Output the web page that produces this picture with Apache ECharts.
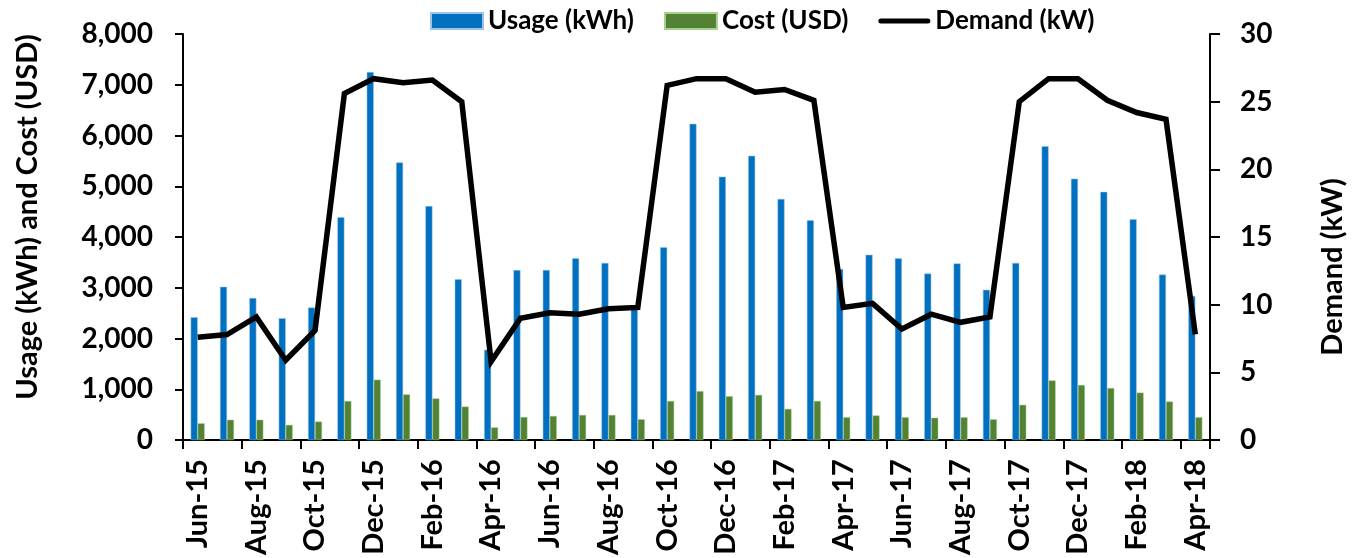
<!DOCTYPE html>
<html>
<head>
<meta charset="utf-8">
<script src="https://cdn.jsdelivr.net/npm/echarts@6/dist/echarts.min.js"></script>
<style>
  html, body { margin: 0; padding: 0; background: #fff; }
  #chart { width: 1361px; height: 558px; }
</style>
</head>
<body>
<div id="chart"></div>
<script>
// Monthly billing periods, Jun-15 through Apr-18
const months = [
  'Jun-15','Jul-15','Aug-15','Sep-15','Oct-15','Nov-15','Dec-15',
  'Jan-16','Feb-16','Mar-16','Apr-16','May-16','Jun-16','Jul-16','Aug-16','Sep-16','Oct-16','Nov-16','Dec-16',
  'Jan-17','Feb-17','Mar-17','Apr-17','May-17','Jun-17','Jul-17','Aug-17','Sep-17','Oct-17','Nov-17','Dec-17',
  'Jan-18','Feb-18','Mar-18','Apr-18'
];

// Energy usage per month (kWh)
const usageKwh = [
  2420, 3020, 2800, 2400, 2610, 4390, 7250,
  5470, 4610, 3170, 1780, 3350, 3350, 3580, 3490, 2600, 3800, 6230, 5190,
  5600, 4750, 4330, 3370, 3650, 3580, 3280, 3480, 2960, 3490, 5790, 5150,
  4890, 4350, 3260, 2840
];

// Bill amount per month (USD)
const costUsd = [
  330, 400, 400, 300, 365, 770, 1190,
  900, 820, 660, 250, 455, 475, 495, 495, 410, 770, 965, 865,
  890, 615, 770, 450, 485, 450, 440, 450, 410, 695, 1175, 1085,
  1025, 935, 760, 450
];

// Peak demand per month (kW)
const demandKw = [
  7.6, 7.8, 9.1, 5.9, 8.1, 25.6, 26.7,
  26.4, 26.6, 25.0, 5.8, 9.0, 9.4, 9.3, 9.7, 9.8, 26.2, 26.7, 26.7,
  25.7, 25.9, 25.1, 9.8, 10.1, 8.2, 9.3, 8.7, 9.1, 25.0, 26.7, 26.7,
  25.1, 24.2, 23.7, 7.8
];

const FONT = 'Lato';
const fmt = v => Number(v).toLocaleString('en-US');

const chart = echarts.init(document.getElementById('chart'), null, { renderer: 'canvas' });

chart.setOption({
  animation: false,
  backgroundColor: '#ffffff',
  textStyle: { fontFamily: FONT, fontWeight: 'bold', color: '#000' },
  grid: { left: 183, right: 151, top: 34, bottom: 116, containLabel: false },
  legend: {
    top: 3,
    left: 425,
    itemWidth: 52,
    itemHeight: 16,
    itemGap: 30,
    symbolKeepAspect: true,
    textStyle: { fontFamily: FONT, fontWeight: 'bold', fontSize: 26, color: '#000' },
    data: [
      { name: 'Usage (kWh)', icon: 'rect' },
      { name: 'Cost (USD)', icon: 'rect' },
      { name: 'Demand (kW)', icon: 'path://M2.5,0 L49.5,0 A2.5,2.5 0 0 1 49.5,5 L2.5,5 A2.5,2.5 0 0 1 2.5,0 Z', itemStyle: { color: '#000' } }
    ]
  },
  xAxis: {
    type: 'category',
    data: months,
    boundaryGap: true,
    axisLine: { lineStyle: { color: '#000', width: 2 } },
    axisTick: { show: true, interval: 1, length: 9, lineStyle: { color: '#000', width: 2 } },
    axisLabel: {
      interval: 1,
      rotate: 90,
      margin: 19,
      fontFamily: FONT,
      fontWeight: 'bold',
      fontSize: 29,
      color: '#000'
    },
    splitLine: { show: false }
  },
  yAxis: [
    {
      type: 'value',
      min: 0,
      max: 8000,
      interval: 1000,
      axisLine: { show: true, lineStyle: { color: '#000', width: 2 } },
      axisTick: { show: true, length: 8, lineStyle: { color: '#000', width: 2 } },
      axisLabel: {
        margin: 30,
        fontFamily: FONT,
        fontWeight: 'bold',
        fontSize: 28,
        color: '#000',
        formatter: fmt
      },
      splitLine: { show: false }
    },
    {
      type: 'value',
      min: 0,
      max: 30,
      interval: 5,
      position: 'right',
      axisLine: { show: true, lineStyle: { color: '#000', width: 2 } },
      axisTick: { show: true, length: 10, lineStyle: { color: '#000', width: 2 } },
      axisLabel: {
        margin: 30,
        fontFamily: FONT,
        fontWeight: 'bold',
        fontSize: 28,
        color: '#000'
      },
      splitLine: { show: false }
    }
  ],
  graphic: [
    {
      type: 'text',
      x: 28,
      y: 217,
      rotation: Math.PI / 2,
      style: {
        text: 'Usage (kWh) and Cost (USD)',
        font: 'bold 29px ' + FONT,
        fill: '#000',
        textAlign: 'center',
        textVerticalAlign: 'middle'
      }
    },
    {
      type: 'text',
      x: 1333,
      y: 267,
      rotation: Math.PI / 2,
      style: {
        text: 'Demand (kW)',
        font: 'bold 29px ' + FONT,
        fill: '#000',
        textAlign: 'center',
        textVerticalAlign: 'middle'
      }
    }
  ],
  series: [
    {
      name: 'Usage (kWh)',
      type: 'bar',
      data: usageKwh,
      barWidth: 7,
      barGap: '0%',
      itemStyle: { color: '#0070C0', borderColor: '#9DC3E6', borderWidth: 0.5 }
    },
    {
      name: 'Cost (USD)',
      type: 'bar',
      data: costUsd,
      barWidth: 7,
      barGap: '0%',
      itemStyle: { color: '#548235', borderColor: '#A9D18E', borderWidth: 0.5 }
    },
    {
      name: 'Demand (kW)',
      type: 'line',
      yAxisIndex: 1,
      data: demandKw,
      symbol: 'none',
      lineStyle: { color: '#000', width: 5.5, join: 'miter' },
      itemStyle: { color: '#000' },
      z: 5
    }
  ]
});
</script>
</body>
</html>
